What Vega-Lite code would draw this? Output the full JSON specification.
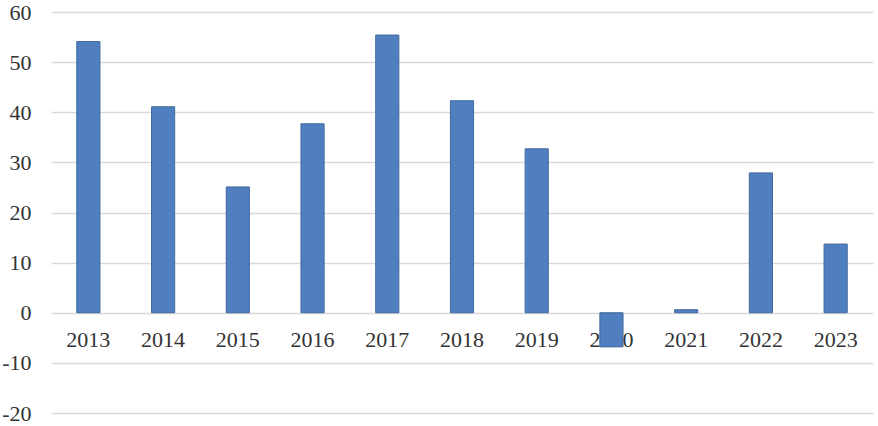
{
  "$schema": "https://vega.github.io/schema/vega-lite/v6.json",
  "width": 822,
  "height": 401,
  "autosize": {"type": "none"},
  "padding": {"left": 51, "top": 12, "right": 5, "bottom": 13},
  "background": "white",
  "data": {"values": [
    {"year": "2013", "value": 54.1},
    {"year": "2014", "value": 41.1},
    {"year": "2015", "value": 25.1},
    {"year": "2016", "value": 37.7},
    {"year": "2017", "value": 55.4},
    {"year": "2018", "value": 42.3},
    {"year": "2019", "value": 32.7},
    {"year": "2020", "value": -6.8},
    {"year": "2021", "value": 0.6},
    {"year": "2022", "value": 27.9},
    {"year": "2023", "value": 13.7}
  ]},
  "config": {"view": {"stroke": null}, "font": "Liberation Serif"},
  "mark": {"type": "bar", "color": "#4f7fbf", "stroke": "#41699e", "strokeWidth": 1},
  "encoding": {
    "x": {
      "field": "year", "type": "ordinal",
      "scale": {"paddingInner": 0.69, "paddingOuter": 0.345},
      "axis": {"title": null, "labelAngle": 0, "domain": false, "ticks": false, "grid": false,
        "offset": -100, "labelPadding": 16, "labelFontSize": 22, "labelColor": "#333333", "labelFont": "Liberation Serif"}
    },
    "y": {
      "field": "value", "type": "quantitative",
      "scale": {"domain": [-20, 60], "nice": false},
      "axis": {"title": null, "values": [-20, -10, 0, 10, 20, 30, 40, 50, 60], "domain": false, "ticks": false,
        "labelExpr": "datum.value < 0 ? '-' + abs(datum.value) : '' + datum.value",
        "grid": true, "gridColor": "#d9d9d9", "gridWidth": 1.5, "labelPadding": 20,
        "labelFontSize": 22, "labelColor": "#333333", "labelFont": "Liberation Serif"}
    }
  }
}
